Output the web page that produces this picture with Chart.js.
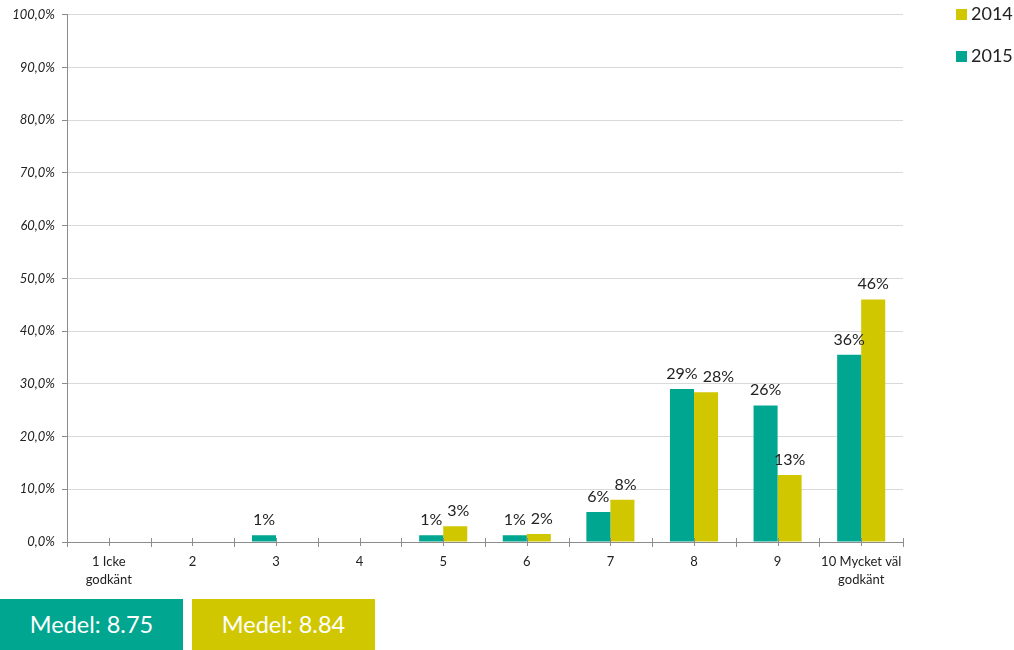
<!DOCTYPE html>
<html>
<head>
<meta charset="utf-8">
<script src="https://cdn.jsdelivr.net/npm/chart.js@4"></script>
<style>
  body { margin: 0; background: #fff; font-family: Lato, "Open Sans", sans-serif; }
  #wrap { position: relative; width: 1014px; height: 650px; }
  #chart-box { position: absolute; left: 0; top: 0; width: 1014px; height: 598px; }
  .legend { position: absolute; left: 956px; font-size: 18px; color: #222; }
  .legend span { display: inline-block; width: 11px; height: 11px; margin-right: 4px; vertical-align: 0px; }
  .medel { position: absolute; top: 599px; height: 51px; width: 183px; color: #fff;
           font-size: 23.5px; line-height: 51px; text-align: center; }
</style>
</head>
<body>
<div id="wrap">
  <div id="chart-box"><canvas id="chart"></canvas></div>
  <div class="legend" style="top:2px"><span style="background:#D1C700"></span>2014</div>
  <div class="legend" style="top:44px"><span style="background:#00A68F"></span>2015</div>
  <div class="medel" style="left:0;background:#00A68F">Medel: 8.75</div>
  <div class="medel" style="left:192px;background:#D1C700">Medel: 8.84</div>
</div>
<script>
// Betyg 1-10, andel svar per år
const categories = [['1 Icke', 'godkänt'], '2', '3', '4', '5', '6', '7', '8', '9', ['10 Mycket väl', 'godkänt']];
const values2015 = [0, 0, 1.3, 0, 1.3, 1.3, 5.7, 29.0, 25.9, 35.5];
const values2014 = [0, 0, 0, 0, 3.0, 1.5, 8.0, 28.4, 12.7, 46.0];
const yTicks = [0, 10, 20, 30, 40, 50, 60, 70, 80, 90, 100];

const TEAL = '#00A68F';
const YELLOW = '#D1C700';
const AXIS = '#8c8c8c';
const FONT = 'Lato, "Open Sans", sans-serif';

// Percent labels above each bar; the second label of a pair is nudged
// right when the two would run into each other
const barLabels = {
  id: 'barLabels',
  afterDatasetsDraw(chart) {
    const ctx = chart.ctx;
    ctx.save();
    ctx.font = '16px ' + FONT;
    ctx.fillStyle = '#222';
    ctx.textAlign = 'center';
    ctx.textBaseline = 'alphabetic';
    const metaA = chart.getDatasetMeta(0).data;
    const metaB = chart.getDatasetMeta(1).data;
    categories.forEach((c, i) => {
      const a = values2015[i], b = values2014[i];
      const ta = Math.round(a) + '%', tb = Math.round(b) + '%';
      let xa = metaA[i].x, xb = metaB[i].x;
      const ya = metaA[i].y - 10, yb = metaB[i].y - 10;
      if (a && b && Math.abs(ya - yb) < 16) {
        const wa = ctx.measureText(ta).width, wb = ctx.measureText(tb).width;
        const gap = (xb - wb / 2) - (xa + wa / 2);
        if (gap < 5) xb += 5 - gap;
      }
      if (a) ctx.fillText(ta, xa, ya);
      if (b) ctx.fillText(tb, xb, yb);
    });
    ctx.restore();
  }
};

// Tick marks on the category axis, at category edges and centers
const xTickMarks = {
  id: 'xTickMarks',
  afterDraw(chart) {
    const x = chart.scales.x;
    const y0 = chart.scales.y.getPixelForValue(0);
    const ctx = chart.ctx;
    ctx.save();
    ctx.strokeStyle = AXIS;
    ctx.lineWidth = 1;
    for (let i = 0; i <= categories.length * 2; i++) {
      const px = Math.round(x.getPixelForValue(i / 2 - 0.5)) + 0.5;
      const edge = i % 2 === 0;
      ctx.beginPath();
      ctx.moveTo(px, y0 - 4);
      ctx.lineTo(px, y0 + (edge ? 5 : 4));
      ctx.stroke();
    }
    ctx.restore();
  }
};

new Chart(document.getElementById('chart'), {
  type: 'bar',
  data: {
    labels: categories,
    datasets: [
      { label: '2015', data: values2015, backgroundColor: TEAL },
      { label: '2014', data: values2014, backgroundColor: YELLOW }
    ]
  },
  options: {
    responsive: true,
    maintainAspectRatio: false,
    animation: false,
    datasets: { bar: { categoryPercentage: 0.575, barPercentage: 1 } },
    layout: { padding: { top: 8, right: 111, left: 0, bottom: 0 } },
    plugins: { legend: { display: false }, tooltip: { enabled: false } },
    scales: {
      x: {
        grid: { display: false, drawTicks: false },
        border: { color: AXIS },
        ticks: {
          color: '#222',
          font: { family: FONT, size: 13, lineHeight: 1.35 },
          padding: 11,
          maxRotation: 0,
          autoSkip: false
        },
        afterFit(s) { s.height = 56; }
      },
      y: {
        min: 0,
        max: 100,
        afterBuildTicks(s) { s.ticks = yTicks.map(v => ({ value: v })); },
        grid: { color: '#d9d9d9', tickColor: AXIS, tickLength: 5 },
        border: { color: AXIS },
        ticks: {
          color: '#222',
          font: { family: FONT, size: 13, style: 'italic' },
          padding: 7,
          callback: v => v.toFixed(1).replace('.', ',') + '%'
        },
        afterFit(s) { s.width = 67; }
      }
    }
  },
  plugins: [barLabels, xTickMarks]
});
</script>
</body>
</html>
